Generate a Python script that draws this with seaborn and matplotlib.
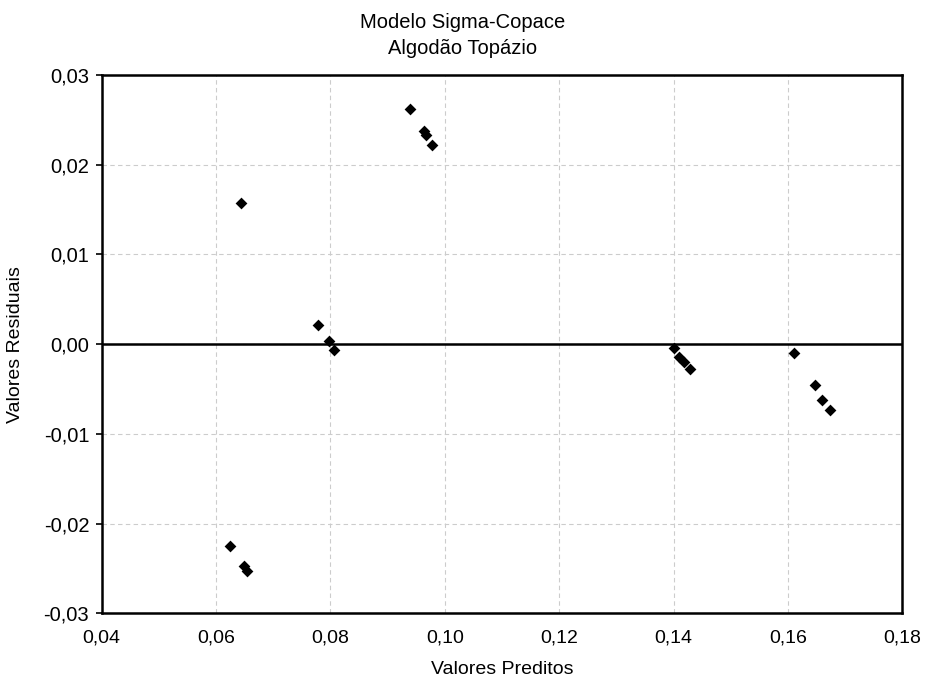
import matplotlib
matplotlib.use("Agg")
import matplotlib.pyplot as plt
from matplotlib.ticker import FuncFormatter, MultipleLocator
import seaborn as sns
import pandas as pd

# Residuals vs. predicted values, Sigma-Copace model
predicted = [0.0643, 0.0625, 0.0649, 0.0654,
             0.0779, 0.0797, 0.0807,
             0.0940, 0.0963, 0.0968, 0.0977,
             0.1401, 0.1409, 0.1418, 0.1429,
             0.1610, 0.1647, 0.1660, 0.1674]
residual = [0.0157, -0.0225, -0.0247, -0.0253,
            0.0021, 0.0003, -0.0006,
            0.0262, 0.0238, 0.0233, 0.0222,
            -0.0004, -0.0014, -0.0020, -0.0028,
            -0.0010, -0.0046, -0.0062, -0.0073]

title_lines = ["Modelo Sigma-Copace", "Algodão Topázio"]
x_label = "Valores Preditos"
y_label = "Valores Residuais"

df = pd.DataFrame({"pred": predicted, "res": residual})

sns.set_theme(style="white")
plt.rcParams["font.family"] = ["Liberation Sans", "DejaVu Sans"]
plt.rcParams["text.color"] = "black"
plt.rcParams["axes.labelcolor"] = "black"
plt.rcParams["xtick.color"] = "black"
plt.rcParams["ytick.color"] = "black"

fig = plt.figure(figsize=(9.25, 6.84), dpi=100)
ax = fig.add_axes([0.1099, 0.1034, 0.8655, 0.787])

sns.scatterplot(data=df, x="pred", y="res", marker="D", s=36,
                color="black", edgecolor="black", linewidth=0, ax=ax, zorder=3)

ax.set_xlim(0.04, 0.18)
ax.set_ylim(-0.03, 0.03)
ax.xaxis.set_major_locator(MultipleLocator(0.02))
ax.yaxis.set_major_locator(MultipleLocator(0.01))
comma = FuncFormatter(lambda v, _: f"{v:.2f}".replace(".", ",").replace("-0,00", "0,00"))
ax.xaxis.set_major_formatter(comma)
ax.yaxis.set_major_formatter(comma)

ax.grid(True, color="#cccccc", linestyle=(0, (4, 3)), linewidth=0.8)
ax.axhline(0, color="black", linewidth=1.8, zorder=2)

for sp in ax.spines.values():
    sp.set_visible(True)
    sp.set_color("black")
    sp.set_linewidth(1.8)

ax.tick_params(axis="y", which="major", direction="out", length=4, width=1.2,
               labelsize=14.5, pad=5, left=True)
ax.tick_params(axis="x", which="major", direction="out", length=0,
               labelsize=14, pad=12, bottom=True)

ax.set_xlabel(x_label, fontsize=14, labelpad=10)
ax.set_ylabel(y_label, fontsize=14, labelpad=14)

fig.text(0.5, 1 - 22 / 684, title_lines[0], ha="center", va="center", fontsize=14.5)
fig.text(0.5, 1 - 48 / 684, title_lines[1], ha="center", va="center", fontsize=14.5)

fig.savefig("out.png", dpi=100, facecolor="white")
